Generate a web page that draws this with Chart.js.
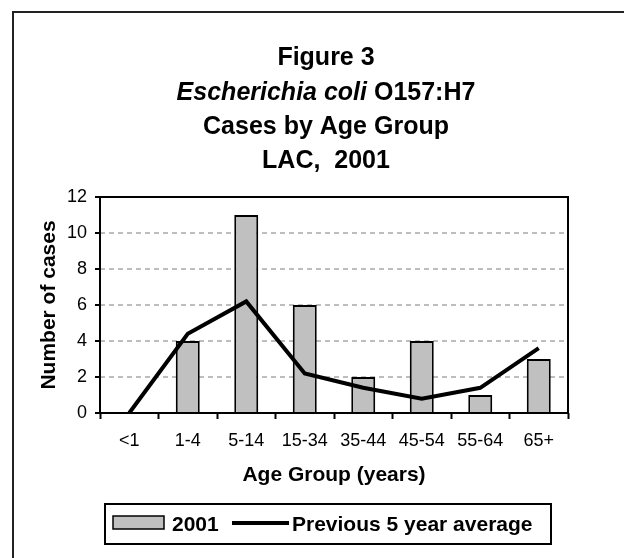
<!DOCTYPE html>
<html>
<head>
<meta charset="utf-8">
<script src="https://cdn.jsdelivr.net/npm/chart.js@4.4.0/dist/chart.umd.min.js"></script>
<style>
  html, body { margin: 0; padding: 0; background: #fff; }
  #wrap { width: 624px; height: 558px; position: relative; }
</style>
</head>
<body>
<div id="wrap"><canvas id="c" width="624" height="558"></canvas></div>
<script>
const categories = ['<1', '1-4', '5-14', '15-34', '35-44', '45-54', '55-64', '65+'];
const cases2001 = [0, 4, 11, 6, 2, 4, 1, 3];
const prevFiveYearAvg = [0, 4.4, 6.2, 2.2, 1.4, 0.8, 1.4, 3.6];
const seriesLabels = ['2001', 'Previous 5 year average'];
const titleLines = ['Figure 3', null, 'Cases by Age Group', 'LAC,  2001'];
const titleItalicPart = 'Escherichia coli';
const titleRegularPart = ' O157:H7';
const xAxisTitle = 'Age Group (years)';
const yAxisTitle = 'Number of cases';
const yMin = 0, yMax = 12, yStep = 2;

const FONT = '"Liberation Sans", Arial, sans-serif';

const decorPlugin = {
  id: 'decor',
  beforeDraw(chart) {
    const ctx = chart.ctx;
    ctx.save();
    ctx.fillStyle = '#fff';
    ctx.fillRect(0, 0, chart.width, chart.height);
    ctx.restore();
  },
  afterDatasetsDraw(chart) {
    const ctx = chart.ctx;
    const a = chart.chartArea;
    ctx.save();
    ctx.strokeStyle = '#000';
    ctx.lineWidth = 2;
    ctx.strokeRect(a.left, a.top, a.right - a.left, a.bottom - a.top);
    ctx.restore();
  },
  afterDraw(chart) {
    const ctx = chart.ctx;
    ctx.save();
    // outer figure border (top and left visible)
    ctx.strokeStyle = '#222';
    ctx.lineWidth = 2;
    ctx.beginPath();
    ctx.moveTo(13, chart.height + 2);
    ctx.lineTo(13, 12);
    ctx.lineTo(chart.width + 2, 12);
    ctx.stroke();

    // title
    const cx = 326;
    const baselines = [65, 99.5, 134, 168];
    ctx.fillStyle = '#000';
    ctx.textBaseline = 'alphabetic';
    ctx.textAlign = 'center';
    ctx.font = 'bold 25px ' + FONT;
    [0, 2, 3].forEach(i => ctx.fillText(titleLines[i], cx, baselines[i]));
    ctx.textAlign = 'left';
    ctx.font = 'italic bold 25px ' + FONT;
    const w1 = ctx.measureText(titleItalicPart).width;
    ctx.font = 'bold 25px ' + FONT;
    const w2 = ctx.measureText(titleRegularPart).width;
    const x0 = cx - (w1 + w2) / 2;
    ctx.font = 'italic bold 25px ' + FONT;
    ctx.fillText(titleItalicPart, x0, baselines[1]);
    ctx.font = 'bold 25px ' + FONT;
    ctx.fillText(titleRegularPart, x0 + w1, baselines[1]);

    // legend
    const ds = chart.data.datasets;
    ctx.lineWidth = 2;
    ctx.strokeStyle = '#000';
    ctx.strokeRect(105, 504, 446, 40);
    ctx.fillStyle = ds[0].backgroundColor;
    ctx.fillRect(113, 516, 51, 13);
    ctx.lineWidth = 1.5;
    ctx.strokeRect(113, 516, 51, 13);
    ctx.fillStyle = '#000';
    ctx.font = 'bold 21px ' + FONT;
    ctx.fillText(ds[0].label, 172, 531);
    ctx.lineWidth = 4;
    ctx.beginPath();
    ctx.moveTo(232, 523);
    ctx.lineTo(289, 523);
    ctx.stroke();
    ctx.fillText(ds[1].label, 292, 531);
    ctx.restore();
  }
};

new Chart(document.getElementById('c'), {
  data: {
    labels: categories,
    datasets: [
      {
        type: 'bar',
        label: seriesLabels[0],
        data: cases2001,
        backgroundColor: '#c0c0c0',
        borderColor: '#000',
        borderWidth: 2,
        categoryPercentage: 1,
        barPercentage: 0.41,
        order: 2
      },
      {
        type: 'line',
        label: seriesLabels[1],
        data: prevFiveYearAvg,
        borderColor: '#000',
        backgroundColor: '#000',
        borderWidth: 4,
        pointRadius: 0,
        pointHoverRadius: 0,
        tension: 0,
        fill: false,
        order: 1
      }
    ]
  },
  options: {
    responsive: false,
    devicePixelRatio: 1,
    animation: false,
    layout: { padding: { top: 197, left: 0, right: 56, bottom: 65 } },
    plugins: {
      legend: { display: false },
      title: { display: false },
      tooltip: { enabled: false }
    },
    scales: {
      x: {
        afterFit(scale) { scale.height = 80; },
        grid: {
          display: true,
          drawOnChartArea: false,
          drawTicks: true,
          tickLength: 6,
          tickColor: '#000',
          tickWidth: 2,
          offset: true
        },
        border: { display: false },
        ticks: {
          color: '#000',
          font: { family: FONT, size: 18 },
          padding: 11,
          maxRotation: 0,
          autoSkip: false
        },
        title: {
          display: true,
          text: xAxisTitle,
          color: '#000',
          font: { family: FONT, size: 21, weight: 'bold' },
          padding: { top: 0, bottom: 5 }
        }
      },
      y: {
        min: yMin,
        max: yMax,
        afterFit(scale) { scale.width = 100; },
        grid: {
          color: '#bdbdbd',
          lineWidth: 2,
          drawTicks: true,
          tickLength: 5,
          tickColor: '#000',
          tickWidth: 2
        },
        border: { display: false, dash: [5, 4] },
        ticks: {
          stepSize: yStep,
          color: '#000',
          font: { family: FONT, size: 18 },
          padding: 8
        },
        title: {
          display: true,
          text: yAxisTitle,
          color: '#000',
          font: { family: FONT, size: 21, weight: 'bold' },
          padding: { top: 37, bottom: 0 }
        }
      }
    }
  },
  plugins: [decorPlugin]
});
</script>
</body>
</html>
